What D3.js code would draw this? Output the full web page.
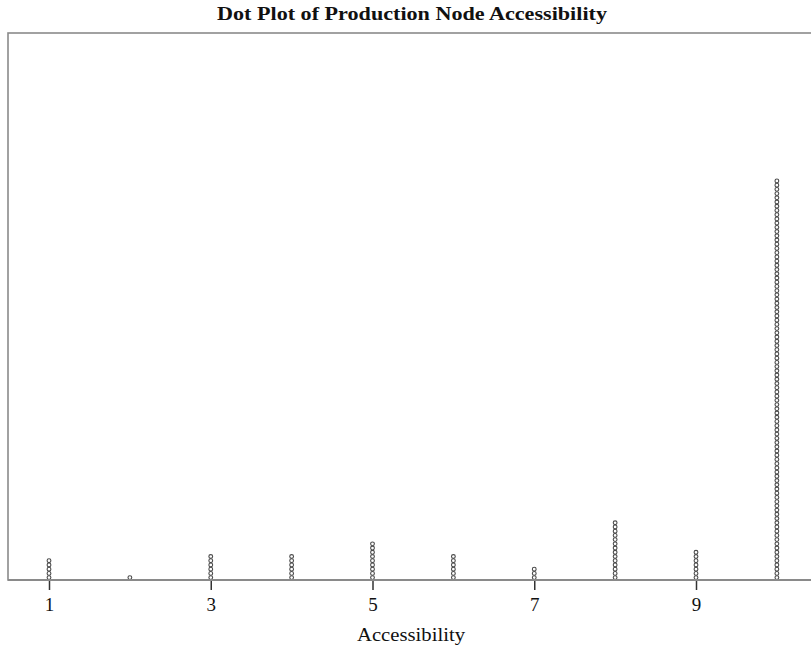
<!DOCTYPE html>
<html>
<head>
<meta charset="utf-8">
<script src="https://cdn.jsdelivr.net/npm/d3@7"></script>
<style>
  html, body { margin: 0; padding: 0; background: #fff; }
  svg { display: block; }
</style>
</head>
<body>
<svg id="chart" width="811" height="648"></svg>
<script>
// Accessibility scores and how many production nodes received each score
const scores = [1, 2, 3, 4, 5, 6, 7, 8, 9, 10];
const counts = [5, 1, 6, 6, 9, 6, 3, 14, 7, 95];
const tickValues = [1, 3, 5, 7, 9];

const W = 811, H = 648;
const frame = { left: 8, top: 33, right: 812, bottom: 580 };
const serif = "'Liberation Serif', 'DejaVu Serif', serif";

const svg = d3.select("#chart");

const x = d3.scaleLinear()
  .domain([1, 9])
  .range([49, 696]);

// Vertical scale counts stacked dots from the axis upwards
const dotStep = 4.22;
const y = d3.scaleLinear()
  .domain([0, 1])
  .range([frame.bottom - 2.4, frame.bottom - 2.4 - dotStep]);

// Plot frame
svg.append("rect")
  .attr("x", frame.left)
  .attr("y", frame.top)
  .attr("width", frame.right - frame.left)
  .attr("height", frame.bottom - frame.top)
  .attr("fill", "none")
  .attr("stroke", "#8a8a8a")
  .attr("stroke-width", 1.6);

// Expand counts into one record per dot
const dots = [];
scores.forEach((s, i) => {
  for (let k = 0; k < counts[i]; k++) dots.push({ score: s, k });
});

svg.append("g")
  .selectAll("circle")
  .data(dots)
  .join("circle")
  .attr("cx", d => x(d.score))
  .attr("cy", d => y(d.k))
  .attr("r", 1.9)
  .attr("fill", "#fff")
  .attr("stroke", "#4a4a4a")
  .attr("stroke-width", 1.1);

// X axis
const axis = d3.axisBottom(x)
  .tickValues(tickValues)
  .tickFormat(d3.format("d"))
  .tickSize(10)
  .tickPadding(8);

const gx = svg.append("g")
  .attr("transform", `translate(0,${frame.bottom})`)
  .call(axis);

gx.select(".domain").remove();
gx.selectAll(".tick line")
  .attr("stroke", "#333")
  .attr("stroke-width", 1.5);
gx.selectAll(".tick text")
  .attr("font-family", serif)
  .attr("font-size", 19)
  .attr("fill", "#111");

// Baseline drawn over the frame bottom
svg.append("line")
  .attr("x1", frame.left)
  .attr("x2", W)
  .attr("y1", frame.bottom)
  .attr("y2", frame.bottom)
  .attr("stroke", "#8a8a8a")
  .attr("stroke-width", 2);

// Titles
svg.append("text")
  .attr("x", 412)
  .attr("y", 20)
  .attr("text-anchor", "middle")
  .attr("font-family", serif)
  .attr("font-weight", "bold")
  .attr("font-size", 18)
  .attr("textLength", 390)
  .attr("lengthAdjust", "spacingAndGlyphs")
  .attr("fill", "#111")
  .text("Dot Plot of Production Node Accessibility");

svg.append("text")
  .attr("x", 411)
  .attr("y", 641)
  .attr("text-anchor", "middle")
  .attr("font-family", serif)
  .attr("font-size", 18)
  .attr("textLength", 108)
  .attr("lengthAdjust", "spacingAndGlyphs")
  .attr("fill", "#111")
  .text("Accessibility");
</script>
</body>
</html>
